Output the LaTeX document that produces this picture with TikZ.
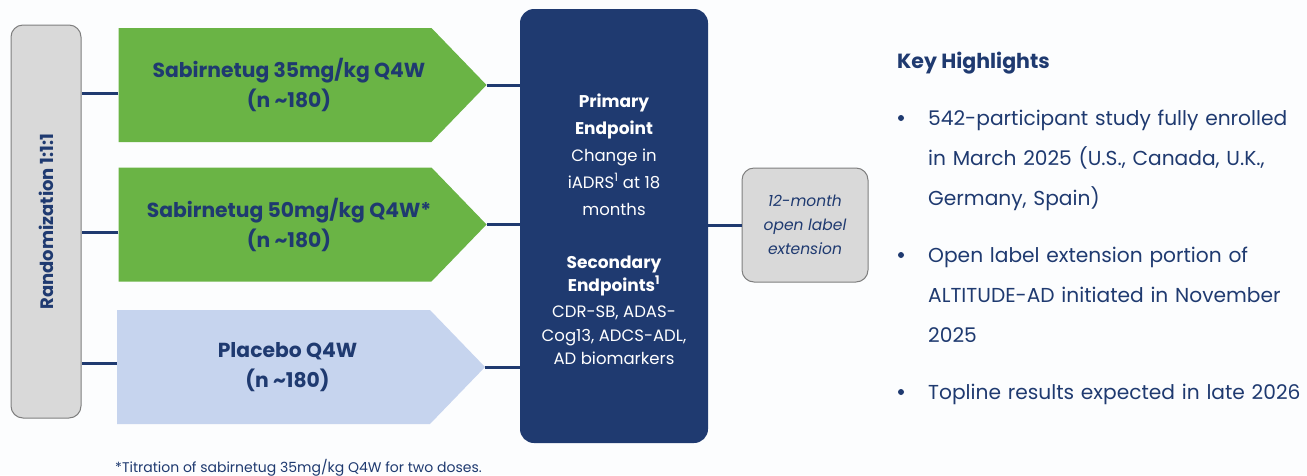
\documentclass[tikz,border=0pt]{standalone}
\usepackage{fontspec}
\setmainfont{Poppins}
\usepackage{xcolor}
\usepackage{tikz}
\usetikzlibrary{shapes.symbols, positioning}
\definecolor{navy}{HTML}{1F3A70}
\definecolor{armgreen}{HTML}{6AB445}
\definecolor{armblue}{HTML}{C6D4EE}
\definecolor{boxgray}{HTML}{D9D9D9}
\definecolor{edgegray}{HTML}{7F7F7F}
\definecolor{pagebg}{HTML}{FCFDFE}

\begin{document}
\begin{tikzpicture}[
    x=1pt, y=-1pt,
    every node/.style={text=navy, inner sep=0pt},
    arm/.style={signal, signal to=east, signal pointer angle=92,
                minimum width=368pt, minimum height=114pt},
    armtext/.style={align=center, xshift=14pt,
                    font=\fontsize{20.3}{30}\selectfont\bfseries},
    graybox/.style={rectangle, rounded corners=12pt, fill=boxgray,
                    draw=edgegray, line width=1pt},
    link/.style={navy, line width=3pt},
    dot/.style={circle, fill=navy, minimum size=6pt},
    bullettext/.style={anchor=base west, text width=390pt, align=left,
                       font=\fontsize{20.2}{40}\selectfont}
]
\useasboundingbox (0,0) rectangle (1307,475);
\fill[pagebg] (0,0) rectangle (1307,475);

% Randomization
\node[graybox, minimum width=70pt, minimum height=393pt] (rand) at (46,221.5)
    {\rotatebox{90}{\fontsize{18}{20}\selectfont\bfseries Randomization 1:1:1}};

% Arms
\node[arm, fill=armgreen] (arm1) at (275,85) {};
\node[armtext] (arm1text) at (arm1.center) {Sabirnetug 35mg/kg Q4W\\(n \textasciitilde180)};
\node[arm, fill=armgreen] (arm2) at (275,224.5) {};
\node[armtext] (arm2text) at (arm2.center) {Sabirnetug 50mg/kg Q4W*\\(n \textasciitilde180)};
\node[arm, fill=armblue] (arm3) at (273.5,367) {};
\node[armtext] (arm3text) at (arm3.center) {Placebo Q4W\\(n \textasciitilde180)};

% Endpoints
\node[rectangle, rounded corners=14pt, fill=navy, minimum width=188pt,
      minimum height=434pt] (ep) at (614,226) {};
\node[text=white, align=center, font=\fontsize{16.5}{27}\selectfont] (eptext) at (614,229)
    {{\fontsize{17}{27}\selectfont\bfseries Primary}\\
     {\fontsize{17}{27}\selectfont\bfseries Endpoint}\\
     Change in\\
     iADRS\textsuperscript{1} at 18\\
     months\\[26pt]
     {\fontsize{17}{27}\selectfont\bfseries Secondary}\\[-4pt]
     {\fontsize{17}{27}\selectfont\bfseries Endpoints\textsuperscript{1}}\\[-1pt]
     CDR-SB, ADAS-\\[-3pt]
     Cog13, ADCS-ADL,\\[-4pt]
     AD biomarkers};

% Extension
\node[graybox, minimum width=126pt, minimum height=114pt, align=center,
      font=\fontsize{15.5}{24}\selectfont\itshape] (ext) at (805,225)
    {12-month\\open label\\extension};

% Connectors
\draw[link] ([yshift=-8pt]arm1.west) -- ([yshift=-8pt]arm1.west -| rand.east);
\draw[link] ([yshift=-8pt]arm2.west) -- ([yshift=-8pt]arm2.west -| rand.east);
\draw[link] ([yshift=4pt]arm3.west) -- ([yshift=4pt]arm3.west -| rand.east);
\draw[link] (arm1.east) -- (arm1.east -| ep.west);
\draw[link] (arm2.east) -- (arm2.east -| ep.west);
\draw[link] (arm3.east) -- (arm3.east -| ep.west);
\draw[link] (ep.east |- ext.west) -- (ext.west);

% Key highlights
\node[anchor=west, font=\fontsize{20.5}{22}\selectfont\bfseries] (keyhl) at (897,63) {Key Highlights};
\node[dot] (dot1) at (901,118) {};
\node[dot] (dot2) at (901,255) {};
\node[dot] (dot3) at (901,392) {};
\node[bullettext] (hl1) at (928,125)
    {542-participant study fully enrolled\\in March 2025 (U.S., Canada, U.K.,\\Germany, Spain)};
\node[bullettext] (hl2) at (928,262)
    {Open label extension portion of\\ALTITUDE-AD initiated in November\\2025};
\node[bullettext] (hl3) at (928,399)
    {Topline results expected in late 2026};

% Footnote
\node[anchor=base west, font=\fontsize{14}{16}\selectfont] (note) at (115,472)
    {*Titration of sabirnetug 35mg/kg Q4W for two doses.};

\end{tikzpicture}
\end{document}
